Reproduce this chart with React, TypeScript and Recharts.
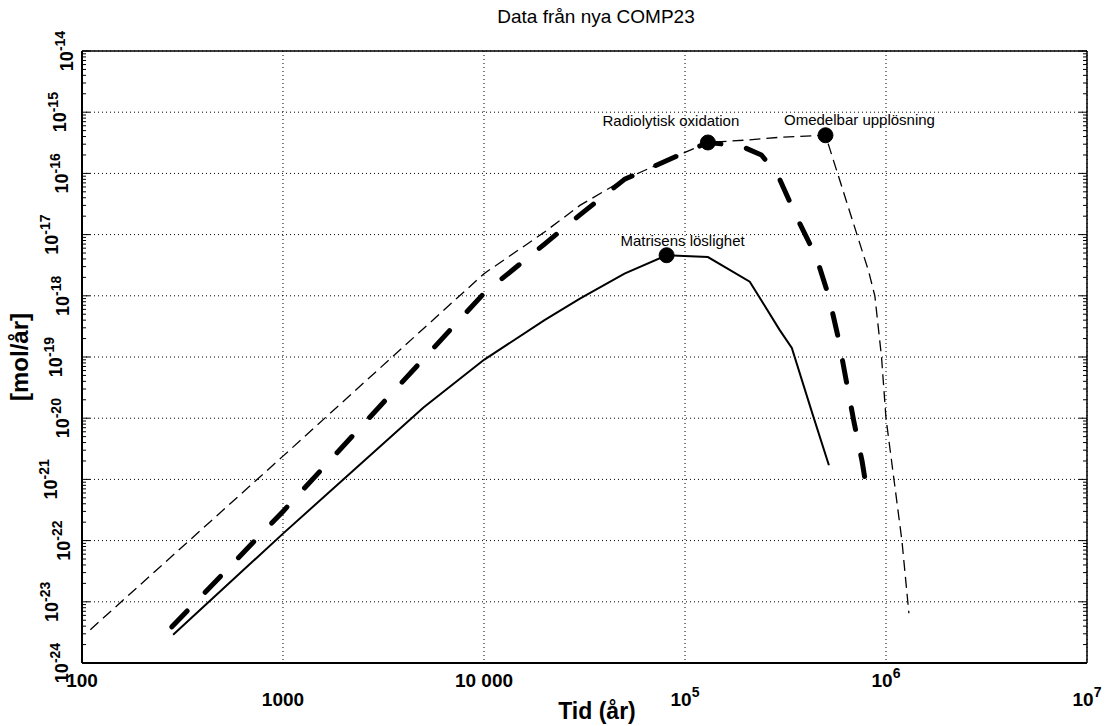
import React from "react";
import {
  ComposedChart,
  Line,
  XAxis,
  YAxis,
  CartesianGrid,
  ReferenceDot,
} from "recharts";

// Matrisens löslighet (solid)
const matrixYears = [284, 1000, 5000, 10000, 20000, 30000, 50000, 81000, 130000, 210000, 295000, 340000, 430000, 520000];
const matrixRate = [2.9e-24, 1.3e-22, 1.5e-20, 9e-20, 4e-19, 9e-19, 2.3e-18, 4.6e-18, 4.3e-18, 1.7e-18, 2.8e-19, 1.4e-19, 1.2e-20, 1.7e-21];

// Radiolytisk oxidation (thick dashed)
const radiolysisYears = [280, 1000, 10000, 20000, 30000, 50000, 100000, 130000, 190000, 240000, 290000, 360000, 450000, 520000, 580000, 630000, 690000, 760000, 820000];
const radiolysisRate = [3.9e-24, 3e-22, 1.1e-18, 7e-18, 2.1e-17, 8e-17, 2.2e-16, 3.2e-16, 2.8e-16, 2e-16, 9.3e-17, 1.9e-17, 4.3e-18, 9.6e-19, 2e-19, 4.6e-20, 9.3e-21, 2e-21, 4.3e-22];

// Omedelbar upplösning (thin dashed)
const instantYears = [110, 1000, 10000, 20000, 30000, 50000, 100000, 130000, 200000, 300000, 500000, 820000, 880000, 950000, 1000000, 1200000, 1300000];
const instantRate = [3.5e-24, 2.4e-21, 2.3e-18, 1.1e-17, 3e-17, 8e-17, 2.2e-16, 3.2e-16, 3.5e-16, 3.9e-16, 4.2e-16, 2.5e-18, 1e-18, 1e-19, 1e-20, 1e-22, 6.5e-24];

// marked maxima
const peakNames = ["Matrisens löslighet", "Radiolytisk oxidation", "Omedelbar upplösning"];
const peakYears = [81000, 130000, 500000];
const peakRate = [4.6e-18, 3.2e-16, 4.2e-16];

const xTickValues = [100, 1000, 10000, 100000, 1000000, 10000000];
const xTickBase = ["100", "1000", "10 000", "10", "10", "10"];
const xTickSup = ["", "", "", "5", "6", "7"];
const yExponents = [-24, -23, -22, -21, -20, -19, -18, -17, -16, -15, -14];

const FONT = "'Liberation Sans', Arial, Helvetica, sans-serif";

const yTickValues = yExponents.map((e) => Number(`1e${e}`));
const xMinor = [2, 3, 4, 5, 6].flatMap((e) =>
  [2, 3, 4, 5, 6, 7, 8, 9].map((m) => Number(`${m}e${e}`))
);
const yMinor = yExponents.slice(0, -1).flatMap((e) =>
  [2, 3, 4, 5, 6, 7, 8, 9].map((m) => Number(`${m}e${e}`))
);
const xFrameTicks = [...xTickValues, ...xMinor];
const yFrameTicks = [...yTickValues, ...yMinor];

// scanned labels sit at slightly different distances from the axis
const yLabelGap: Record<number, number> = {
  [-14]: 9, [-15]: 16, [-16]: 14, [-17]: 24, [-18]: 13, [-19]: 20,
  [-20]: 13, [-21]: 25, [-22]: 12, [-23]: 24, [-24]: 14,
};
const peakLabelShift = [
  [16, -9],
  [-37, -16],
  [34, -10],
];

const toPoints = (ts: number[], vs: number[]) => ts.map((t, i) => ({ t, v: vs[i] }));

const isDecade = (v: number) => {
  const l = Math.log10(v);
  return Math.abs(l - Math.round(l)) < 1e-6;
};

const frameTick = (dx: number, dy: number) => (props: any) => {
  const { x, y, payload } = props;
  const len = isDecade(payload.value) ? 8 : 4;
  return (
    <line x1={x} y1={y} x2={x + dx * len} y2={y + dy * len} stroke="#000" strokeWidth={1} />
  );
};

const XLabel = (props: any) => {
  const { x, y, payload } = props;
  const i = xTickValues.indexOf(payload.value);
  if (i < 0) return null;
  const drop = i % 2 === 1 ? 43 : 24;
  return (
    <text x={x} y={y + drop} textAnchor="middle" fontFamily={FONT} fontSize={19} fontWeight="bold" fill="#000">
      {xTickBase[i]}
      {xTickSup[i] && (
        <tspan dy={-9} fontSize={14}>
          {xTickSup[i]}
        </tspan>
      )}
    </text>
  );
};

const YLabel = (props: any) => {
  const { x, y, payload } = props;
  const e = Math.round(Math.log10(payload.value));
  const bx = x - (yLabelGap[e] ?? 14);
  return (
    <text
      x={bx}
      y={y}
      transform={`rotate(-90 ${bx} ${y})`}
      textAnchor="middle"
      fontFamily={FONT}
      fontSize={18}
      fontWeight="bold"
      fill="#000"
    >
      10
      <tspan dy={-8} fontSize={14}>
        {`-${Math.abs(e)}`}
      </tspan>
    </text>
  );
};

const peakLabel = (i: number) => (props: any) => {
  const vb = props.viewBox;
  const cx = vb.x + vb.width / 2;
  const cy = vb.y + vb.height / 2;
  return (
    <text
      x={cx + peakLabelShift[i][0]}
      y={cy + peakLabelShift[i][1]}
      textAnchor="middle"
      fontFamily={FONT}
      fontSize={15}
      fill="#000"
    >
      {peakNames[i]}
    </text>
  );
};

export default function App() {
  return (
    <div style={{ position: "absolute", left: 0, top: 0, width: 1107, height: 726, background: "#fff" }}>
      <ComposedChart width={1107} height={726} margin={{ top: 51, right: 20, bottom: 0, left: 0 }}>
        <CartesianGrid xAxisId="x" yAxisId="y" stroke="#000" strokeDasharray="1 3" strokeWidth={1} />
        <XAxis
          xAxisId="x"
          dataKey="t"
          type="number"
          scale="log"
          domain={[100, 10000000]}
          allowDataOverflow
          ticks={xTickValues}
          interval={0}
          height={63}
          tickSize={0}
          tickMargin={0}
          tickLine={false}
          axisLine={{ stroke: "#000", strokeWidth: 2 }}
          tick={XLabel}
        />
        <XAxis
          xAxisId="xb"
          type="number"
          scale="log"
          domain={[100, 10000000]}
          allowDataOverflow
          ticks={xFrameTicks}
          interval={0}
          mirror
          height={1}
          tickSize={0}
          tickMargin={0}
          tickLine={false}
          axisLine={false}
          tick={frameTick(0, -1)}
        />
        <XAxis
          xAxisId="xt"
          orientation="top"
          type="number"
          scale="log"
          domain={[100, 10000000]}
          allowDataOverflow
          ticks={xFrameTicks}
          interval={0}
          mirror
          height={1}
          tickSize={0}
          tickMargin={0}
          tickLine={false}
          axisLine={{ stroke: "#000", strokeWidth: 1.5 }}
          tick={frameTick(0, 1)}
        />
        <YAxis
          yAxisId="y"
          type="number"
          scale="log"
          domain={[1e-24, 1e-14]}
          allowDataOverflow
          ticks={yTickValues}
          interval={0}
          width={82}
          tickSize={0}
          tickMargin={0}
          tickLine={false}
          axisLine={{ stroke: "#000", strokeWidth: 2 }}
          tick={YLabel}
        />
        <YAxis
          yAxisId="yl"
          type="number"
          scale="log"
          domain={[1e-24, 1e-14]}
          allowDataOverflow
          ticks={yFrameTicks}
          interval={0}
          mirror
          width={1}
          tickSize={0}
          tickMargin={0}
          tickLine={false}
          axisLine={false}
          tick={frameTick(1, 0)}
        />
        <YAxis
          yAxisId="yr"
          orientation="right"
          type="number"
          scale="log"
          domain={[1e-24, 1e-14]}
          allowDataOverflow
          ticks={yFrameTicks}
          interval={0}
          mirror
          width={1}
          tickSize={0}
          tickMargin={0}
          tickLine={false}
          axisLine={{ stroke: "#000", strokeWidth: 1.5 }}
          tick={frameTick(-1, 0)}
        />

        <Line
          xAxisId="x"
          yAxisId="y"
          data={toPoints(instantYears, instantRate)}
          dataKey="v"
          stroke="#000"
          strokeWidth={1.3}
          strokeDasharray="11 6"
          dot={false}
          isAnimationActive={false}
        />
        <Line
          xAxisId="x"
          yAxisId="y"
          data={toPoints(radiolysisYears, radiolysisRate)}
          dataKey="v"
          stroke="#000"
          strokeWidth={5}
          strokeDasharray="22 26"
          strokeLinecap="round"
          strokeLinejoin="round"
          dot={false}
          isAnimationActive={false}
        />
        <Line
          xAxisId="x"
          yAxisId="y"
          data={toPoints(matrixYears, matrixRate)}
          dataKey="v"
          stroke="#000"
          strokeWidth={2}
          dot={false}
          isAnimationActive={false}
        />

        {peakNames.map((name, i) => (
          <ReferenceDot
            key={name}
            xAxisId="x"
            yAxisId="y"
            x={peakYears[i]}
            y={peakRate[i]}
            r={7.5}
            fill="#000"
            stroke="#000"
            label={{ content: peakLabel(i) }}
          />
        ))}

        <text x={596} y={23} textAnchor="middle" fontFamily={FONT} fontSize={19} fill="#000">
          Data från nya COMP23
        </text>
        <text x={597} y={719} textAnchor="middle" fontFamily={FONT} fontSize={23} fontWeight="bold" fill="#000">
          Tid (år)
        </text>
        <text
          x={28}
          y={357}
          transform="rotate(-90 28 357)"
          textAnchor="middle"
          fontFamily={FONT}
          fontSize={24}
          fontWeight="bold"
          fill="#000"
        >
          [mol/år]
        </text>
      </ComposedChart>
    </div>
  );
}
